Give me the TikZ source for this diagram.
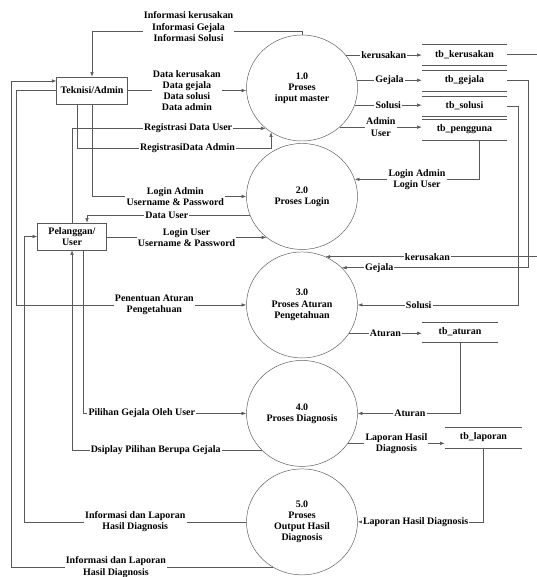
\documentclass[tikz,border=0pt]{standalone}
\usepackage{fontspec}
\setmainfont{Liberation Serif}
\usetikzlibrary{arrows.meta,positioning,shapes.geometric}

\begin{document}
\begin{tikzpicture}[
  x=0.03cm, y=-0.03cm,
  font=\bfseries\fontsize{8.5}{9.6}\selectfont,
  proc/.style={ellipse, draw=black!65, minimum width=3.33cm, minimum height=3.18cm, align=center, inner sep=0pt},
  entity/.style={rectangle, draw=black!65, minimum width=2.07cm, minimum height=0.81cm, align=center},
  store/.style={minimum width=2.55cm, minimum height=0.6cm, inner sep=1pt,
    append after command={(\tikzlastnode.north west) edge[draw=black!65] (\tikzlastnode.north east)
      (\tikzlastnode.south west) edge[draw=black!65] (\tikzlastnode.south east)}},
  lbl/.style={fill=white, inner sep=1pt, align=center},
  arr/.style={-{Latex[length=4pt,width=3pt]}, draw=black!65, line width=0.5pt}
]
\useasboundingbox (0,0) rectangle (537,577);

\node[proc] (p1) at (302,88) {1.0\\Proses\\input master};
\node[proc, below=0.06cm of p1] (p2) {2.0\\Proses Login};
\node[proc, below=0.06cm of p2] (p3) {3.0\\Proses Aturan\\Pengetahuan};
\node[proc, below=0.06cm of p3] (p4) {4.0\\Proses Diagnosis};
\node[proc, below=0.06cm of p4] (p5) {5.0\\Proses\\Output Hasil\\Diagnosis};

\node[entity] (ta) at (92,90.5) {Teknisi/Admin};
\node[entity] (pu) at (72,236.5) {Pelanggan/\\User};

\node[store] (tbk) at (464.5,54.5) {tb\_kerusakan};
\node[store, below=0.17cm of tbk] (tbg) {tb\_gejala};
\node[store, below=0.15cm of tbg] (tbs) {tb\_solusi};
\node[store, below=0.09cm of tbs] (tbp) {tb\_pengguna};
\node[store, minimum width=2.28cm] (tba) at (460,332) {tb\_aturan};
\node[store, minimum width=2.31cm] (tbl) at (483.5,437.5) {tb\_laporan};

% Teknisi/Admin
\draw[arr] (ta.east) -- node[lbl] {Data kerusakan\\Data gejala\\Data solusi\\Data admin} (ta.east -| p1.west);
\draw[arr] (p1.north) -- ++(0,-3) -| node[lbl, pos=0.27, yshift=0.15cm] {Informasi kerusakan\\Informasi Gejala\\Informasi Solusi} (ta.north);
\draw[arr] ([xshift=-0.45cm]ta.south) -- ++(0,44) -| node[lbl, pos=0.285] {RegistrasiData Admin} (p1.235);
\draw[arr] (ta.south) |- node[lbl, pos=0.77] {Login Admin\\Username \& Password} (p2.west);
\draw[arr] (ta.west) -- ++(-40,0) |- node[lbl, pos=0.8] {Penentuan Aturan\\Pengetahuan} (p3.west);
\draw[arr] (p5.237) -| node[lbl, pos=0.3] {Informasi dan Laporan\\Hasil Diagnosis} ([xshift=-1.35cm,yshift=0.285cm]ta.west) -- ([yshift=0.285cm]ta.west);

% Pelanggan/User
\draw[arr] (pu.north) |- node[lbl, pos=0.8] {Registrasi Data User} (p1.228);
\draw[arr] (p2.200) -| node[lbl, pos=0.255] {Data User} ([xshift=0.45cm]pu.north);
\draw[arr] (p2.229 -| pu.east) -- node[lbl] {Login User\\Username \& Password} (p2.229);
\draw[arr] ([xshift=0.33cm]pu.south) |- node[lbl, pos=0.68] {Pilihan Gejala Oleh User} (p4.west);
\draw[arr] (p4.223) -| node[lbl, pos=0.28] {Dsiplay Pilihan Berupa Gejala} (pu.south);
\draw[arr] (p5.west) -| node[lbl, pos=0.25] {Informasi dan Laporan\\Hasil Diagnosis} ([xshift=-0.39cm]pu.west) -- (pu.west);

% data store
\draw[arr] (p1.37) -- node[lbl] {kerusakan} (p1.37 -| tbk.west);
\draw[arr] (p1.8) -- node[lbl] {Gejala} (p1.8 -| tbg.west);
\draw[arr] (p1.-18) -- node[lbl] {Solusi} (p1.-18 -| tbs.west);
\draw[arr] (p1.-46) -- node[lbl] {Admin\\User} (p1.-46 -| tbp.west);
\draw[arr] ([xshift=0.44cm]tbp.south) |- node[lbl, pos=0.75] {Login Admin\\Login User} (p2.18);
\draw[arr] (tbk.east) -- ++(30.5,0) |- node[lbl, pos=0.76] {kerusakan} (p3.64);
\draw[arr] (tbg.east) -- ++(21,0) |- node[lbl, pos=0.9] {Gejala} (p3.43);
\draw[arr] (tbs.east) -- ++(11,0) |- node[lbl, pos=0.81] {Solusi} (p3.east);
\draw[arr] (p3.-31) -- node[lbl] {Aturan} (p3.-31 -| tba.west);
\draw[arr] (tba.south) |- node[lbl, pos=0.745] {Aturan} (p4.east);
\draw[arr] (p4.-33) -- node[lbl] {Laporan Hasil\\Diagnosis} (p4.-33 -| tbl.west);
\draw[arr] (tbl.south) |- node[lbl, pos=0.77] {Laporan Hasil Diagnosis} (p5.east);
\end{tikzpicture}
\end{document}
